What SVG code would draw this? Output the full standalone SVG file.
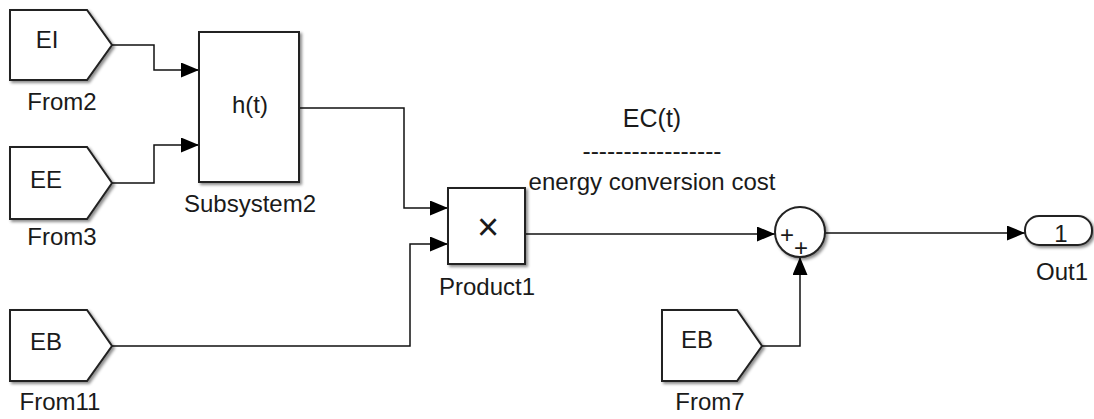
<svg xmlns="http://www.w3.org/2000/svg" width="1094" height="419" viewBox="0 0 1094 419">
<style>
.blk{fill:#fff;stroke:#222;stroke-width:2;filter:url(#sh)}
.ln{fill:none;stroke:#111;stroke-width:1.5;marker-end:url(#ah)}
text{font-family:"Liberation Sans",Arial,sans-serif;font-size:24px;fill:#1a1a1a;text-anchor:middle}
.pl{font-size:24px}
</style>
<defs>
<filter id="sh" x="-20%" y="-20%" width="140%" height="140%">
<feDropShadow dx="2" dy="2" stdDeviation="1.6" flood-color="#000" flood-opacity="0.45"/>
</filter>
<marker id="ah" viewBox="0 0 18 15" refX="18" refY="7.5" markerWidth="18" markerHeight="15" markerUnits="userSpaceOnUse" orient="auto">
<path d="M0,0 L18,7.5 L0,15 Z" fill="#000"/>
</marker>
</defs>
<g id="connectors">
<path class="ln" d="M112,45 H154 V70 H199"/>
<path class="ln" d="M112,183 H154 V145 H199"/>
<path class="ln" d="M299,108 H404 V208 H448"/>
<path class="ln" d="M112,346 H410 V244 H448"/>
<path class="ln" d="M525,234 H775"/>
<path class="ln" d="M762,346 H800 V257"/>
<path class="ln" d="M825,233 H1025"/>
</g>
<g id="From2">
<polygon class="blk" points="10,10 87,10 112,45 87,80 10,80"/>
<text x="47" y="48">EI</text>
<text x="62" y="110">From2</text>
</g>
<g id="From3">
<polygon class="blk" points="10,147 87,147 112,183 87,219 10,219"/>
<text x="46" y="188">EE</text>
<text x="62" y="245">From3</text>
</g>
<g id="From11">
<polygon class="blk" points="10,310 87,310 112,346 87,381 10,381"/>
<text x="46" y="350">EB</text>
<text x="60" y="410">From11</text>
</g>
<g id="Subsystem2">
<rect class="blk" x="199" y="32" width="100" height="150"/>
<text x="250" y="113">h(t)</text>
<text x="250" y="212">Subsystem2</text>
</g>
<g id="Product1">
<rect class="blk" x="448" y="188" width="77" height="76"/>
<text x="488" y="240" style="font-size:38px">×</text>
<text x="487" y="295">Product1</text>
</g>
<g id="annotation">
<text x="652" y="127" style="font-size:25px">EC(t)</text>
<text x="652" y="159" textLength="139" lengthAdjust="spacingAndGlyphs">-----------------</text>
<text x="652" y="190">energy conversion cost</text>
</g>
<g id="Sum">
<circle class="blk" cx="800" cy="232" r="25"/>
<text class="pl" x="787" y="242.5">+</text>
<text class="pl" x="801" y="255.5">+</text>
</g>
<g id="From7">
<polygon class="blk" points="662,310 737,310 762,346 737,381 662,381"/>
<text x="697" y="348">EB</text>
<text x="710" y="410">From7</text>
</g>
<g id="Out1">
<rect class="blk" x="1025" y="216" width="67" height="29" rx="14" ry="14"/>
<text x="1061" y="242">1</text>
<text x="1062" y="280">Out1</text>
</g>
</svg>
